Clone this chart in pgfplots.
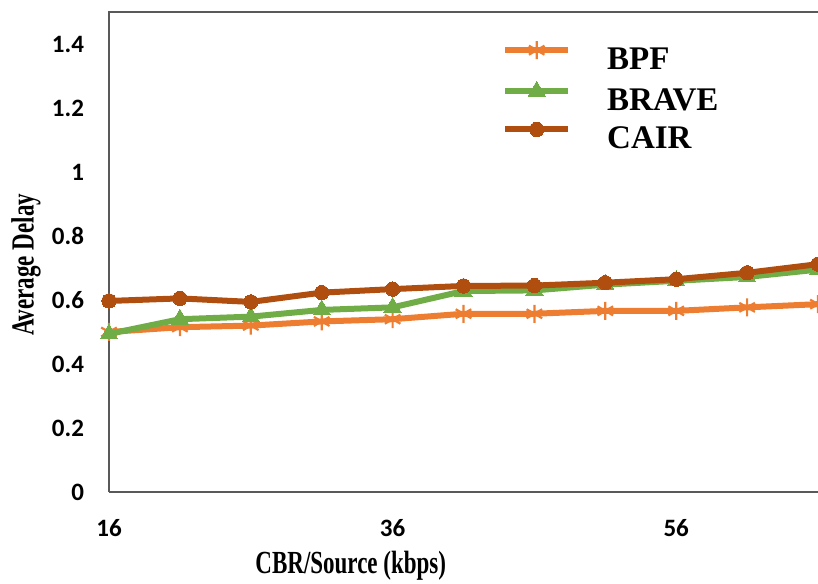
\documentclass[border=0pt]{standalone}
\usepackage{graphicx}
\usepackage{pgfplots}
\pgfplotsset{compat=1.18}
\usetikzlibrary{calc}
\usepackage{fontspec}
\setmainfont{Liberation Serif}
\newfontfamily\carlito{Carlito}
\definecolor{bpf}{HTML}{ED7D31}
\definecolor{brave}{HTML}{70AD47}
\definecolor{cair}{HTML}{B04E0F}
\begin{document}
\begin{tikzpicture}
\begin{axis}[
  name=ax,
  scale only axis,
  width=354.5pt, height=240pt,
  xmin=16, xmax=66, ymin=0, ymax=1.5,
  xtick={16,36,56},
  ytick={0,0.2,0.4,0.6,0.8,1,1.2,1.4},
  axis x line*=bottom, axis y line*=left,
  axis line style={black!65, line width=1.1pt},
  major tick length=0pt,
  clip mode=individual,
  /pgf/number format/assume math mode=true,
  ticklabel style={font=\carlito\bfseries\fontsize{12.5}{14}\selectfont},
  xticklabel style={yshift=-10pt},
  yticklabel style={xshift=-9pt},
  xlabel={\scalebox{1}[1.4]{\textbf{CBR/Source (kbps)}}},
  ylabel={\scalebox{1}[1.4]{\textbf{Average Delay}}},
  label style={font=\fontsize{11.5}{13}\selectfont},
  xlabel style={at={(axis description cs:0.341,0)}, anchor=center, yshift=-37pt},
  ylabel style={at={(axis description cs:-0.117,0.473)}, anchor=center},
  legend cell align=left,
  legend style={draw=none, fill=none, at={(axis description cs:0.554,0.94)}, anchor=north west,
    inner sep=0pt, column sep=16pt, row sep=4pt,
    font=\bfseries\fontsize{16.5}{18}\selectfont,
    nodes={inner sep=2pt, text height=11pt, text depth=0pt}},
  legend image code/.code={\draw[#1, mark repeat=2, mark phase=2] plot coordinates {(0pt,4pt) (15.75pt,4pt) (31.5pt,4pt)};},
  every axis plot/.append style={line width=3pt},
]
\addplot[bpf, mark=asterisk, mark size=4.5pt, mark options={line width=1.1pt}] coordinates {
(16,0.500) (21,0.515) (26,0.520) (31,0.533) (36,0.540) (41,0.557)
(46,0.557) (51,0.566) (56,0.566) (61,0.577) (66,0.587)};
\addplot[brave, mark=triangle*, mark size=5pt, mark options={line width=0pt}] coordinates {
(16,0.494) (21,0.540) (26,0.548) (31,0.569) (36,0.577) (41,0.628)
(46,0.630) (51,0.648) (56,0.660) (61,0.672) (66,0.695)};
\addplot[cair, mark=*, mark size=3.6pt, mark options={line width=0pt}] coordinates {
(16,0.597) (21,0.605) (26,0.594) (31,0.623) (36,0.634) (41,0.644)
(46,0.645) (51,0.654) (56,0.665) (61,0.685) (66,0.712)};
\legend{BPF,BRAVE,CAIR}
\end{axis}
\draw[black!65, line width=1.1pt] ($(ax.north west)+(-0.55pt,0)$) -- (ax.north east);
\pgfresetboundingbox
\path ($(ax.south west)+(-54.5pt,-45.5pt)$) rectangle ($(ax.north east)+(0pt,6pt)$);
\end{tikzpicture}
\end{document}
